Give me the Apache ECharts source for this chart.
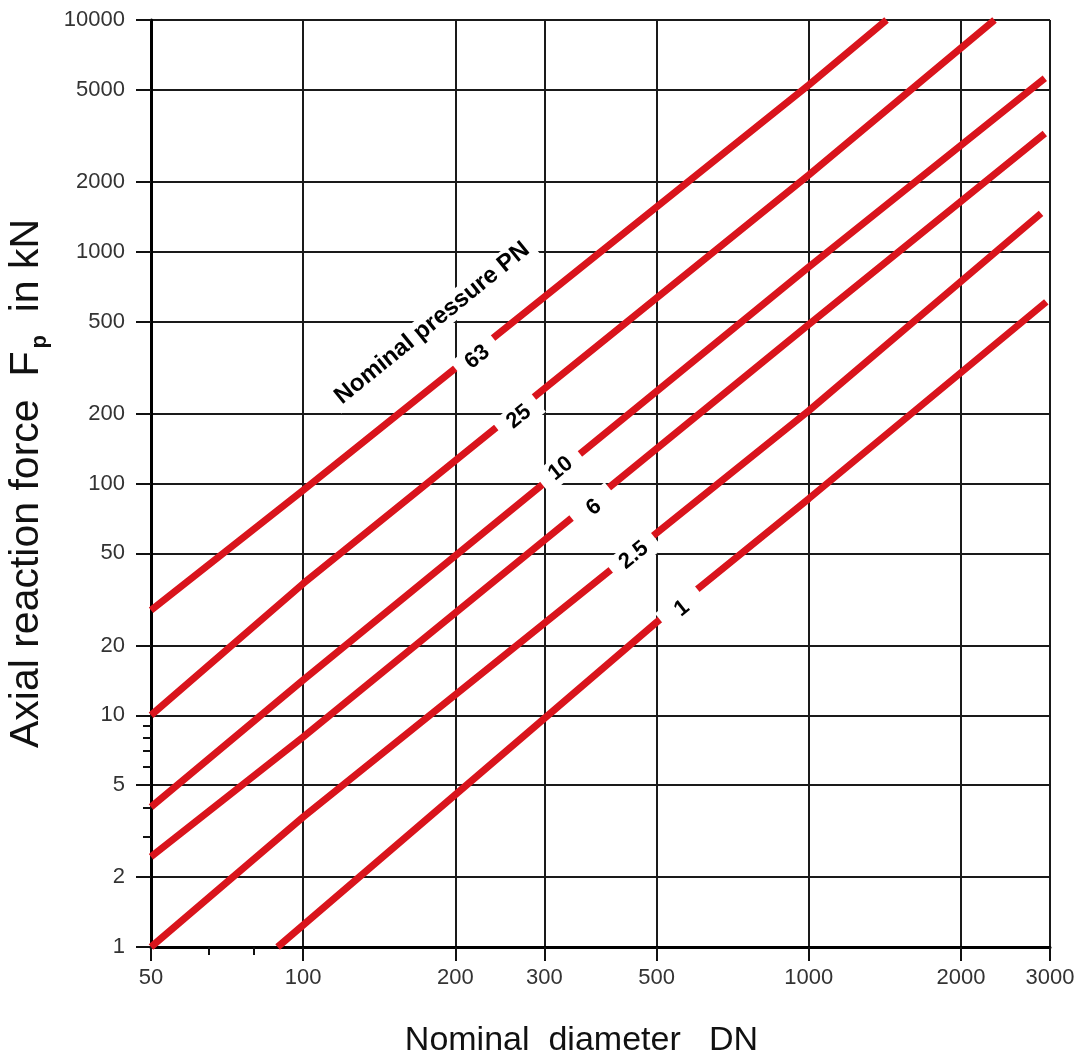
<!DOCTYPE html>
<html>
<head>
<meta charset="utf-8">
<script src="https://cdn.jsdelivr.net/npm/echarts@6/dist/echarts.min.js"></script>
<style>
html,body{margin:0;padding:0;background:#fff;}
#chart{width:1083px;height:1057px;}
</style>
</head>
<body>
<div id="chart"></div>
<script>
// Axis ticks
const DN_TICKS = [50, 100, 200, 300, 500, 1000, 2000, 3000];
const DN_MINOR = [65, 80];
const F_TICKS = [1, 2, 5, 10, 20, 50, 100, 200, 500, 1000, 2000, 5000, 10000];
const F_MINOR = [3, 4, 6, 7, 8, 9];

// Nominal pressure lines: [DN, Fp in kN]
const PN_NAMES = ['63', '25', '10', '6', '2.5', '1'];
const pn63 = [[50, 28.4], [100, 93.5], [1000, 5240], [1425, 10000]];
const pn25 = [[50, 10], [100, 37], [1000, 2143], [2330, 10000]];
const pn10 = [[50, 4.02], [100, 14.2], [1000, 859], [2930, 5600]];
const pn6 = [[50, 2.45], [100, 8.06], [1000, 485], [2930, 3240]];
const pn2_5 = [[50, 1], [100, 3.64], [1000, 206], [2880, 1463]];
const pn1 = [[89, 1], [500, 25.2], [1000, 86], [2950, 608]];

// In-chart labels
const labelTexts = ['Nominal pressure PN', '63', '25', '10', '6', '2.5', '1'];
const labelDN = [180, 221, 267, 323, 376, 451, 561];
const labelF = [492, 351, 194, 116, 78.8, 49, 28.9];

const FONT = "'Liberation Sans', Arial, sans-serif";
const RED = '#d9141c';

const lines = [pn63, pn25, pn10, pn6, pn2_5, pn1];

const series = lines.map((d, i) => ({
  name: 'PN ' + PN_NAMES[i],
  type: 'line',
  data: d,
  symbol: 'none',
  silent: true,
  z: 3,
  lineStyle: { color: RED, width: 7, cap: 'butt' }
}));

series.push({
  type: 'scatter',
  silent: true,
  z: 10,
  symbolSize: 1,
  itemStyle: { color: '#fff', opacity: 1 },
  data: labelTexts.map((t, i) => ({
    value: [labelDN[i], labelF[i]],
    label: {
      formatter: t,
      fontSize: i === 0 ? 24 : 22,
      padding: i === 0 ? [1, 6] : (t.length === 1 ? [2, 18] : [2, 12])
    }
  })),
  label: {
    show: true,
    position: 'inside',
    rotate: 39,
    fontFamily: FONT,
    fontWeight: 'bold',
    fontSize: 22,
    color: '#000',
    opacity: 1,
    backgroundColor: '#fff'
  }
});

const plainNum = v => String(v);

const chart = echarts.init(document.getElementById('chart'), null, { renderer: 'canvas' });
chart.setOption({
  backgroundColor: '#fff',
  animation: false,
  grid: { left: 151, right: 33, top: 20, bottom: 110, containLabel: false, outerBoundsMode: 'none' },
  xAxis: [{
    type: 'log', logBase: 10, min: 50, max: 3000,
    name: 'Nominal  diameter   DN',
    nameLocation: 'middle',
    nameGap: 77,
    nameTextStyle: { fontFamily: FONT, fontSize: 34, color: '#111', padding: [0, 38, 0, 0] },
    axisLine: { show: true, lineStyle: { color: '#000', width: 3 } },
    axisTick: { show: true, customValues: DN_TICKS, length: 14, lineStyle: { color: '#111', width: 2 } },
    axisLabel: { customValues: DN_TICKS, formatter: plainNum, margin: 20, fontFamily: FONT, fontSize: 22, color: '#333' },
    splitLine: { show: true, lineStyle: { color: '#1a1a1a', width: 2 } },
    minorTick: { show: false }
  }, {
    type: 'log', logBase: 10, min: 50, max: 3000, position: 'bottom',
    axisLine: { show: false },
    axisTick: { show: true, customValues: DN_MINOR, length: 8, lineStyle: { color: '#111', width: 2 } },
    axisLabel: { show: false },
    splitLine: { show: false }
  }],
  yAxis: [{
    type: 'log', logBase: 10, min: 1, max: 10000,
    name: '{a|Axial reaction force  F}{s|p}{a|  in kN}',
    nameLocation: 'middle',
    nameGap: 100,
    nameRotate: 90,
    nameTextStyle: {
      rich: {
        a: { fontFamily: FONT, fontSize: 41, color: '#111', lineHeight: 48, verticalAlign: 'middle' },
        s: { fontFamily: FONT, fontSize: 22, fontWeight: 'bold', color: '#111', lineHeight: 18, verticalAlign: 'bottom', padding: [0, 0, 0, 3] }
      }
    },
    axisLine: { show: true, lineStyle: { color: '#000', width: 3 } },
    axisTick: { show: true, customValues: F_TICKS, length: 15, lineStyle: { color: '#111', width: 2 } },
    axisLabel: { customValues: F_TICKS, formatter: plainNum, margin: 26, fontFamily: FONT, fontSize: 22, color: '#333' },
    splitLine: { show: true, lineStyle: { color: '#1a1a1a', width: 2 } },
    minorTick: { show: false }
  }, {
    type: 'log', logBase: 10, min: 1, max: 10000, position: 'left',
    axisLine: { show: false },
    axisTick: { show: true, customValues: F_MINOR, length: 8, lineStyle: { color: '#111', width: 2 } },
    axisLabel: { show: false },
    splitLine: { show: false }
  }],
  series: series
});
</script>
</body>
</html>
